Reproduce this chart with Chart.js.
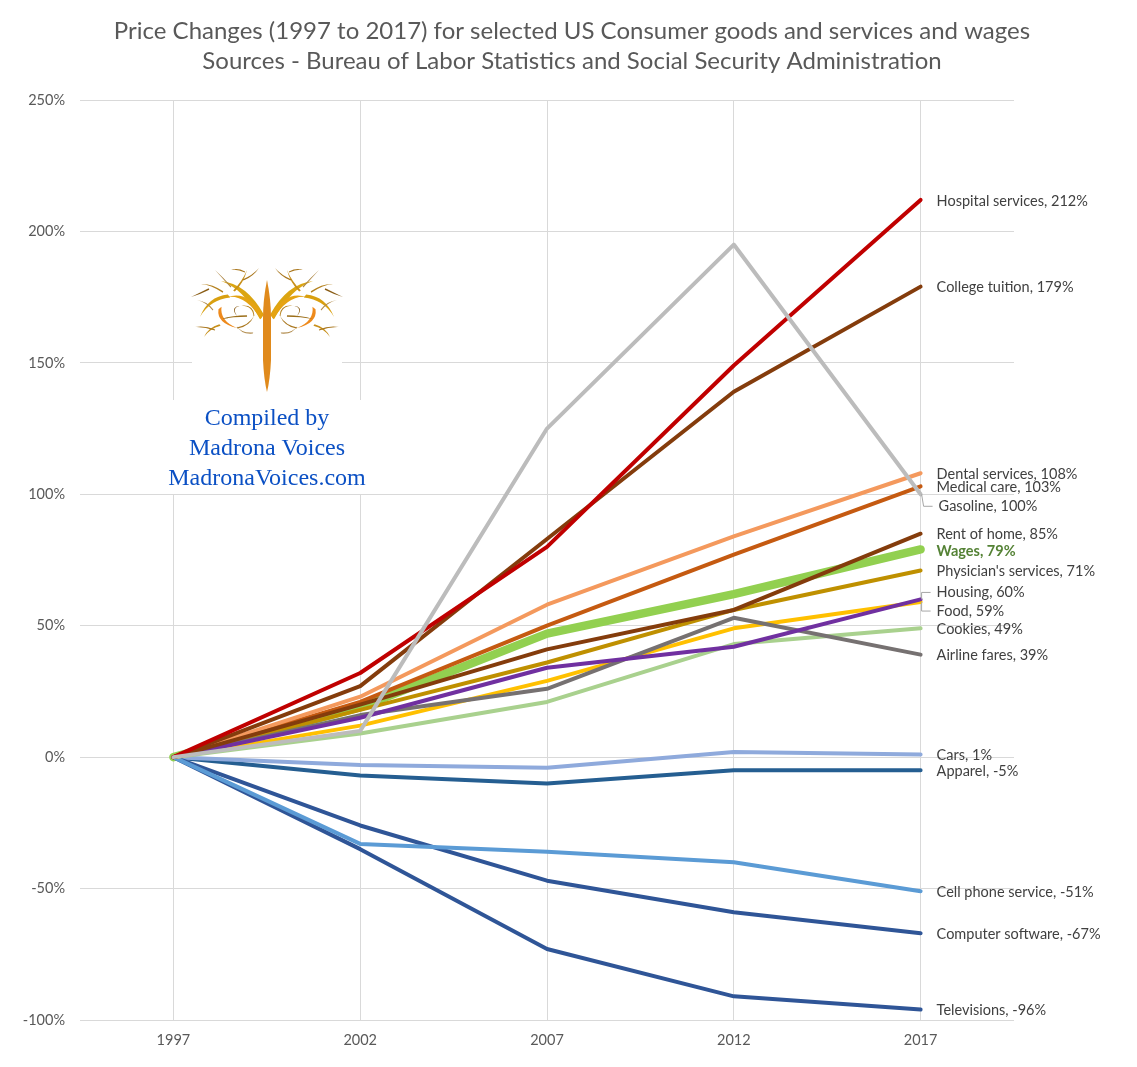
<!DOCTYPE html>
<html>
<head>
<meta charset="utf-8">
<title>Price Changes</title>
<script src="https://cdn.jsdelivr.net/npm/chart.js@4"></script>
<style>
html, body { margin: 0; padding: 0; background: #fff; overflow: hidden; }
canvas { display: block; }
</style>
</head>
<body>
<canvas id="priceChart" width="1137" height="1067"></canvas>
<script>
const years = ['1997', '2002', '2007', '2012', '2017'];

// values in percent change since 1997
const gasoline = [0, 10, 125, 195, 100];
const hospital = [0, 32, 80, 149, 212];
const college = [0, 27, 83, 139, 179];
const rent = [0, 20, 41, 56, 85];
const housing = [0, 15, 34, 42, 60];
const airline = [0, 16, 26, 53, 39];
const physician = [0, 18, 36, 56, 71];
const food = [0, 12, 29, 49, 59];
const dental = [0, 23, 58, 84, 108];
const medical = [0, 21, 50, 77, 103];
const cookies = [0, 9, 21, 43, 49];
const cell = [0, -33, -36, -40, -51];
const software = [0, -26, -47, -59, -67];
const televisions = [0, -35, -73, -91, -96];
const cars = [0, -3, -4, 2, 1];
const apparel = [0, -7, -10, -5, -5];
const wages = [0, 19, 47, 62, 79];

// first entry is drawn on top
const series = [
    { name: 'Gasoline', values: gasoline, color: '#bcbcbc', dx: 18, dy: 12, leader: 'down' },
    { name: 'Hospital services', values: hospital, color: '#c00000', dx: 16, dy: 1 },
    { name: 'College tuition', values: college, color: '#843c0c', dx: 16, dy: 1 },
    { name: 'Rent of home', values: rent, color: '#843c0c', dx: 16, dy: 1 },
    { name: 'Housing', values: housing, color: '#7030a0', dx: 16, dy: -7, leader: 'up' },
    { name: 'Airline fares', values: airline, color: '#767171', dx: 16, dy: 1 },
    { name: "Physician's services", values: physician, color: '#bf9000', dx: 16, dy: 1 },
    { name: 'Food', values: food, color: '#ffc000', dx: 16, dy: 9, leader: 'down' },
    { name: 'Dental services', values: dental, color: '#f4995d', dx: 16, dy: 1 },
    { name: 'Medical care', values: medical, color: '#c55a11', dx: 16, dy: 1 },
    { name: 'Cookies', values: cookies, color: '#a9d18e', dx: 16, dy: 1 },
    { name: 'Cell phone service', values: cell, color: '#5b9bd5', dx: 16, dy: 1 },
    { name: 'Computer software', values: software, color: '#2f5597', dx: 16, dy: 1 },
    { name: 'Televisions', values: televisions, color: '#2f5597', dx: 16, dy: 1 },
    { name: 'Cars', values: cars, color: '#8faadc', dx: 16, dy: 1 },
    { name: 'Apparel', values: apparel, color: '#255e91', dx: 16, dy: 1 },
    { name: 'Wages', values: wages, color: '#92d050', dx: 16, dy: 2, width: 8.5, bold: true }
];

// Line-end labels and their thin leader lines
const endLabels = {
    id: 'endLabels',
    afterDatasetsDraw(chart) {
        const ctx = chart.ctx;
        ctx.save();
        ctx.textBaseline = 'middle';
        ctx.textAlign = 'left';
        series.forEach((s, i) => {
            const last = chart.getDatasetMeta(i).data[years.length - 1];
            const tx = last.x + s.dx;
            const ty = last.y + s.dy;
            if (s.leader) {
                ctx.strokeStyle = '#a6a6a6';
                ctx.lineWidth = 1;
                ctx.beginPath();
                ctx.moveTo(last.x + 1, last.y);
                ctx.lineTo(last.x + (s.name === 'Gasoline' ? 3 : 1), ty);
                ctx.lineTo(tx - 6, ty);
                ctx.stroke();
            }
            ctx.font = (s.bold ? 'bold ' : '') + '14.5px Lato';
            ctx.fillStyle = s.bold ? '#548235' : '#404040';
            ctx.fillText(s.name + ', ' + s.values[s.values.length - 1] + '%', tx, ty);
        });
        ctx.restore();
    }
};

function taper(ctx, x0, y0, cx, cy, x1, y1, w, color) {
    const len = Math.hypot(x1 - x0, y1 - y0) || 1;
    const nx = -(y1 - y0) / len * w / 2;
    const ny = (x1 - x0) / len * w / 2;
    ctx.fillStyle = color;
    ctx.beginPath();
    ctx.moveTo(x0 + nx, y0 + ny);
    ctx.quadraticCurveTo(cx + nx, cy + ny, x1, y1);
    ctx.quadraticCurveTo(cx - nx, cy - ny, x0 - nx, y0 - ny);
    ctx.closePath();
    ctx.fill();
}

// Madrona tree logo: right side coordinates, mirrored around the trunk
const treeBranches = [
    [5, 317, 22, 286, 46, 281, 6, '#dba511'],
    [5, 317, 20, 292, 40, 297, 5, '#e5a312'],
    [38, 296, 58, 298, 67, 317, 4, '#d9a010'],
    [47, 308, 49, 322, 30, 328, 4, '#ee8a1c'],
    [30, 328, 18, 326, 13, 316, 1.5, '#a9761c'],
    [13, 316, 14, 304, 28, 306, 1.5, '#b5821f'],
    [28, 306, 36, 308, 30, 316, 1.2, '#8a5d16'],
    [20, 316, 34, 316, 46, 319, 1.5, '#9c6f1a'],
    [47, 325, 58, 328, 63, 337, 2, '#c8901a'],
    [52, 330, 62, 326, 72, 327, 1.2, '#a9761c'],
    [33, 291, 24, 282, 20, 270, 2, '#c8901a'],
    [24, 280, 14, 276, 8, 268, 1.5, '#a9761c'],
    [22, 272, 30, 268, 36, 270, 1.2, '#a9761c'],
    [36, 287, 44, 278, 52, 270, 1.2, '#b08a4a'],
    [44, 292, 56, 284, 66, 284, 1.5, '#b5821f'],
    [58, 289, 68, 294, 76, 297, 1.5, '#8a5d16'],
    [54, 310, 60, 302, 70, 300, 1.2, '#b08a4a'],
    [14, 333, 26, 334, 30, 326, 1.2, '#b08a4a']
];

function drawLogo(ctx, cx) {
    treeBranches.forEach(b => {
        [1, -1].forEach(side => {
            taper(ctx, cx + side * b[0], b[1], cx + side * b[2], b[3], cx + side * b[4], b[5], b[6], b[7]);
        });
    });
    ctx.fillStyle = '#e08a1c';
    ctx.beginPath();
    ctx.moveTo(cx, 280);
    ctx.quadraticCurveTo(cx + 4, 300, cx + 4, 318);
    ctx.lineTo(cx + 4, 360);
    ctx.quadraticCurveTo(cx + 3, 380, cx, 392);
    ctx.quadraticCurveTo(cx - 3, 380, cx - 4, 360);
    ctx.lineTo(cx - 4, 318);
    ctx.quadraticCurveTo(cx - 4, 300, cx, 280);
    ctx.fill();
}

const logoBlock = {
    id: 'logoBlock',
    beforeDatasetsDraw(chart) {
        const ctx = chart.ctx;
        const cx = chart.scales.x.left + 187;
        ctx.save();
        ctx.fillStyle = '#fff';
        ctx.fillRect(cx - 75, 264, 150, 136);
        ctx.fillRect(cx - 105, 400, 210, 94);
        drawLogo(ctx, cx);
        ctx.font = '24px "Liberation Serif"';
        ctx.fillStyle = '#0b50c4';
        ctx.textAlign = 'center';
        ctx.textBaseline = 'middle';
        ['Compiled by', 'Madrona Voices', 'MadronaVoices.com'].forEach((line, i) => {
            ctx.fillText(line, cx, 419 + i * 30);
        });
        ctx.restore();
    }
};

new Chart(document.getElementById('priceChart').getContext('2d'), {
    type: 'line',
    data: {
        labels: years,
        datasets: series.map(s => ({
            label: s.name,
            data: s.values,
            borderColor: s.color,
            backgroundColor: s.color,
            borderWidth: s.width || 4,
            borderCapStyle: 'round',
            borderJoinStyle: 'round',
            pointRadius: 0,
            tension: 0,
            clip: false
        }))
    },
    options: {
        responsive: false,
        animation: false,
        layout: { padding: { left: 7, right: 0, top: 0, bottom: 0 } },
        plugins: {
            legend: { display: false },
            tooltip: { enabled: false },
            title: {
                display: true,
                text: [
                    'Price Changes (1997 to 2017) for selected US Consumer goods and services and wages',
                    'Sources - Bureau of Labor Statistics and Social Security Administration'
                ],
                color: '#595959',
                font: { family: 'Lato', size: 24, weight: 'normal', lineHeight: 1.25 },
                padding: { top: 16, bottom: 24 }
            }
        },
        scales: {
            x: {
                offset: true,
                grid: { color: '#d9d9d9', drawTicks: false },
                border: { display: false },
                ticks: { color: '#595959', font: { family: 'Lato', size: 14.5 }, padding: 12, maxRotation: 0 },
                afterFit(scale) { scale.height = 47; }
            },
            y: {
                min: -100,
                max: 250,
                grid: { color: '#d9d9d9', drawTicks: false },
                border: { display: false },
                ticks: {
                    stepSize: 50,
                    color: '#595959',
                    font: { family: 'Lato', size: 14.5 },
                    padding: 15,
                    callback: value => value + '%'
                },
                afterFit(scale) { scale.width = 73; }
            },
            // keeps the empty strip on the right where the line labels sit
            rightGap: {
                position: 'right',
                grid: { display: false, drawOnChartArea: false },
                border: { display: false },
                ticks: { display: false },
                afterFit(scale) { scale.width = 123; }
            }
        }
    },
    plugins: [logoBlock, endLabels]
});
</script>
</body>
</html>
